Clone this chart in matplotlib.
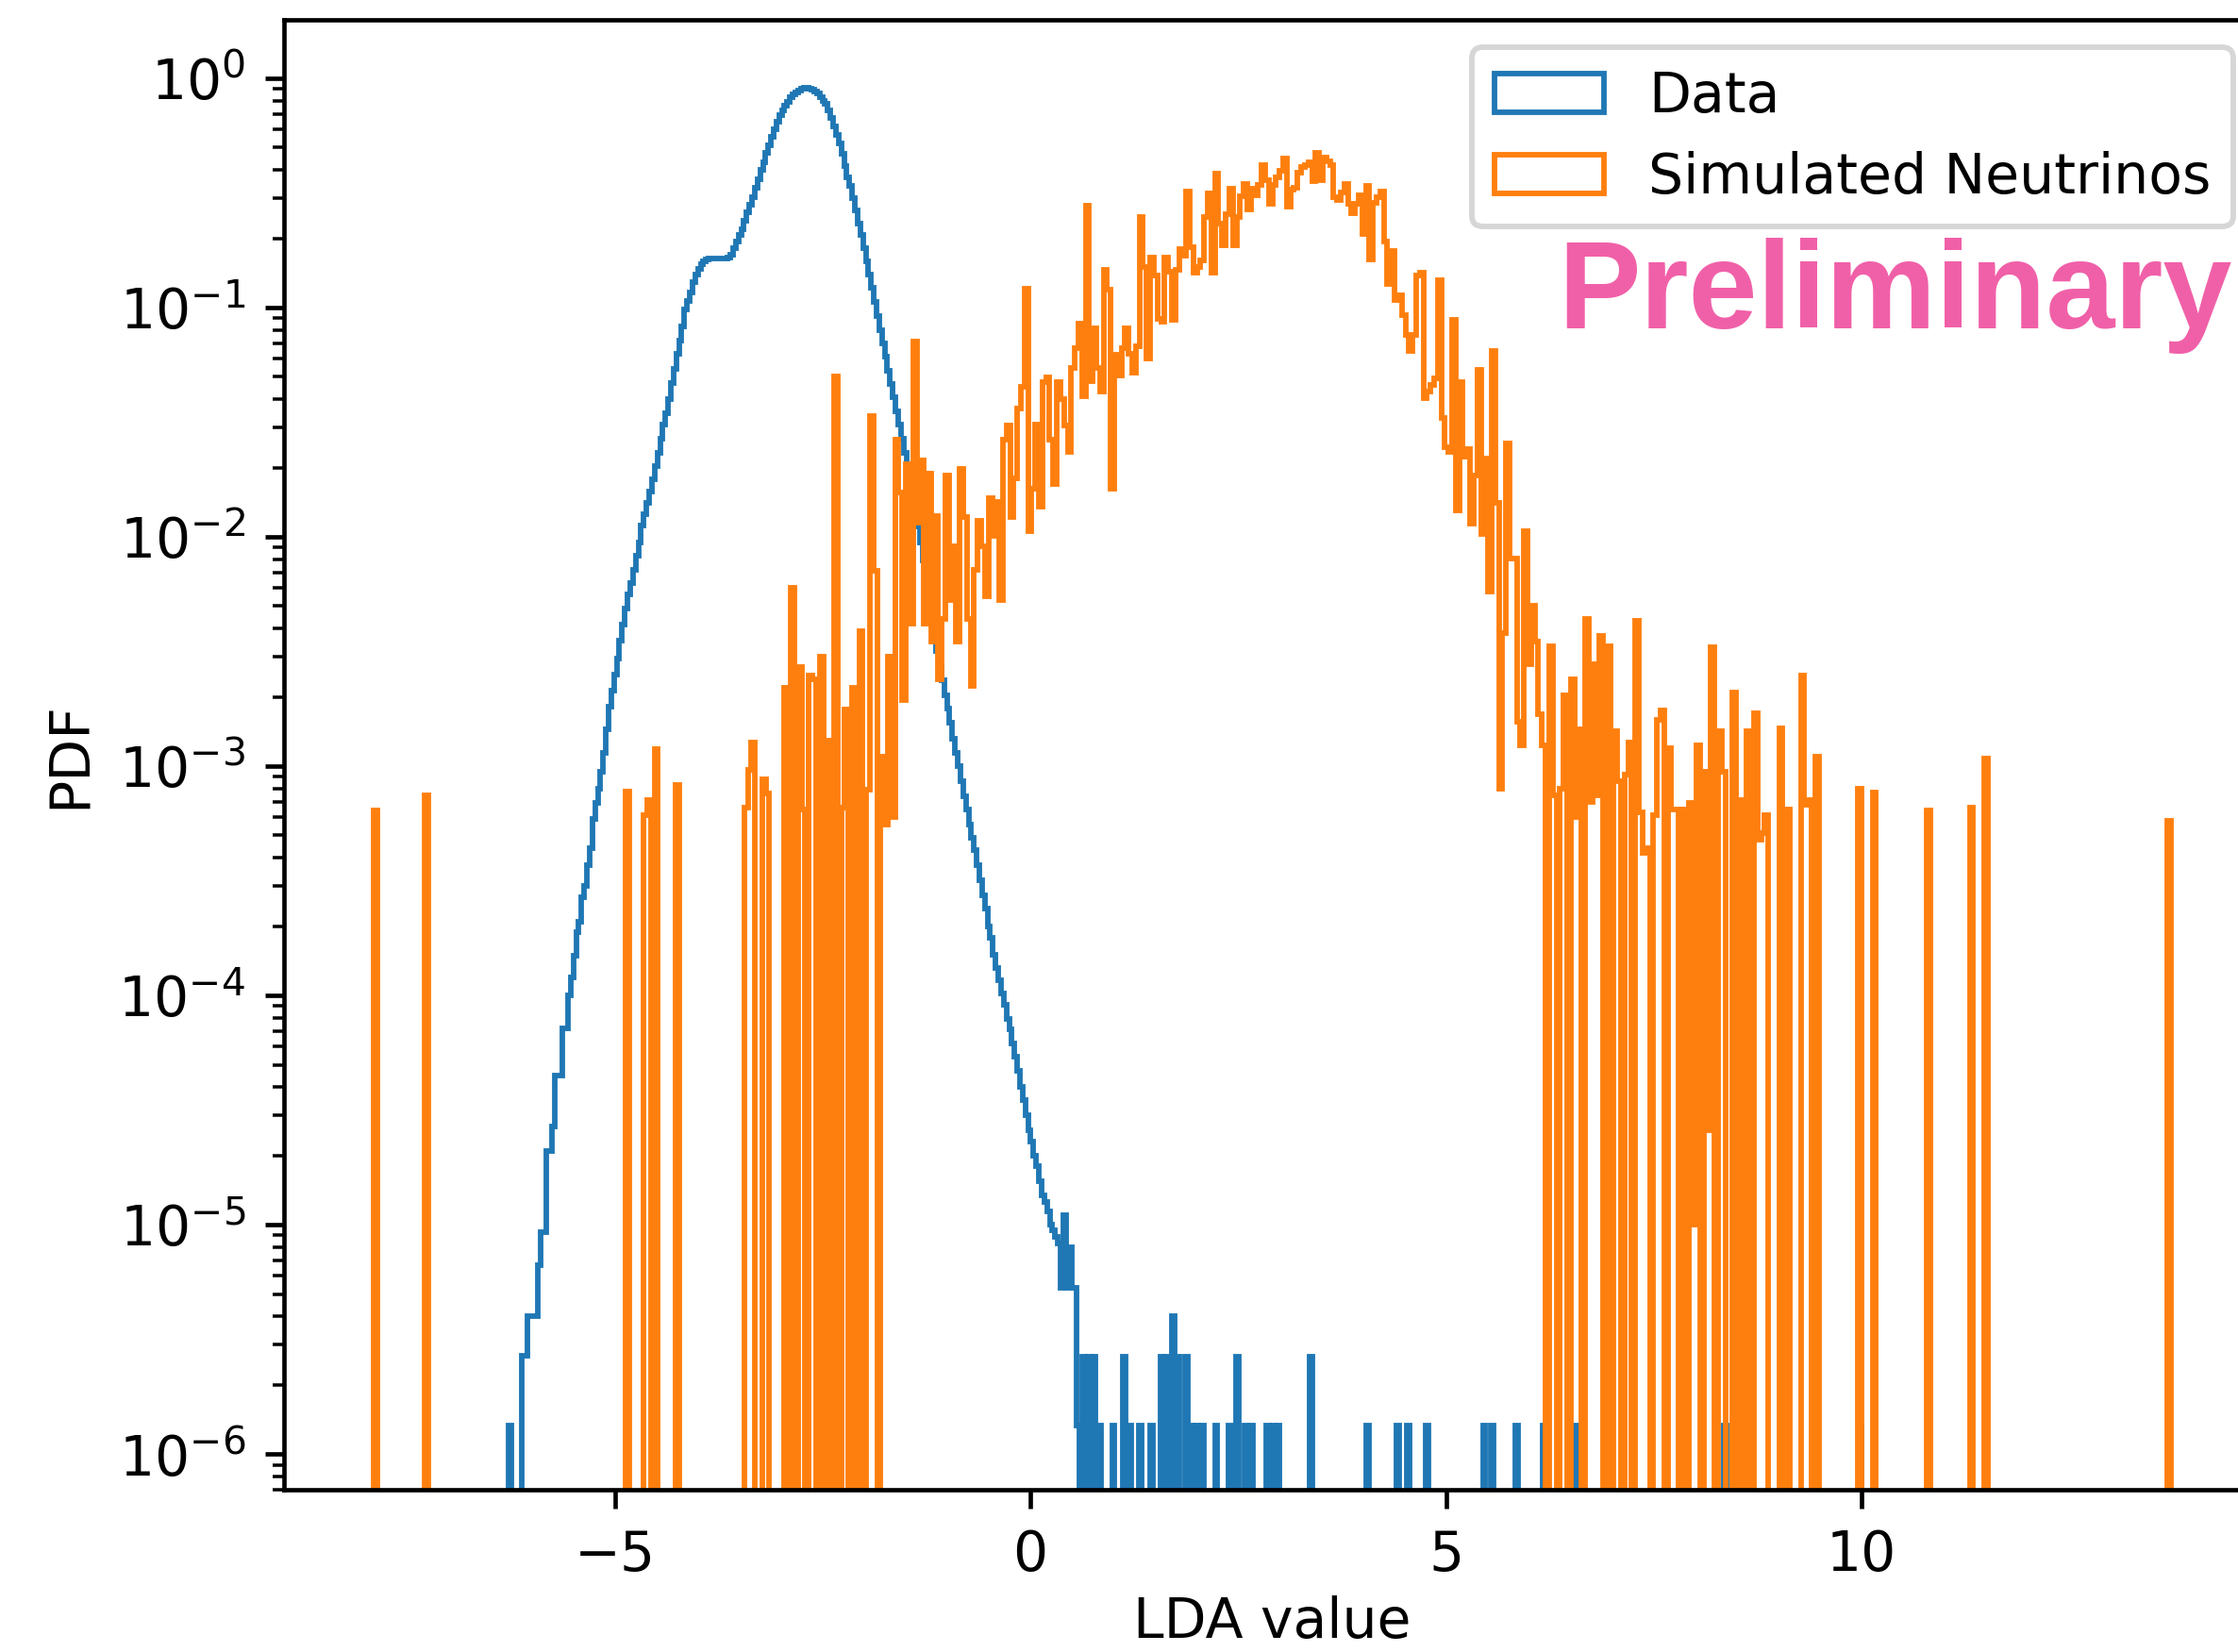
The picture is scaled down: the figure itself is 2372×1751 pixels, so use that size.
import numpy as np
import matplotlib
matplotlib.use("Agg")
import matplotlib.pyplot as plt

# ---- Data (PDF per bin) ----
# blue: 500 bins on [-6.28, 10.0]; body starts at the first bin
blue_range = (-6.28, 10.0)
blue_body = [
    1.33e-6, 0, 0, 0, 0, 2.7e-6, 2.7e-6, 4.0e-6, 4.0e-6, 4.0e-6,
    4.0e-6, 6.7e-6, 9.3e-6, 9.3e-6, 2.1e-5, 2.1e-5, 2.7e-5, 4.5e-5, 4.5e-5, 4.5e-5,
    7.2e-5, 7.2e-5, 1.0e-4, 1.2e-4, 1.5e-4, 1.9e-4, 2.1e-4, 2.7e-4, 3.0e-4, 3.7e-4,
    4.4e-4, 5.9e-4, 6.9e-4, 8.0e-4, 9.5e-4, 1.15e-3, 1.45e-3, 1.82e-3, 2.14e-3, 2.51e-3,
    2.95e-3, 3.55e-3, 4.17e-3, 4.9e-3, 5.6e-3, 6.3e-3, 7.2e-3, 8.3e-3, 9.5e-3, 0.0112,
    0.0126, 0.0141, 0.0158, 0.0178, 0.0204, 0.0234, 0.0269, 0.0309, 0.0347, 0.0398,
    0.0468, 0.054, 0.063, 0.072, 0.083, 0.098, 0.107, 0.117, 0.129, 0.140,
    0.148, 0.155, 0.160, 0.163, 0.164, 0.164, 0.164, 0.164, 0.164, 0.164,
    0.164, 0.165, 0.170, 0.182, 0.195, 0.207, 0.221, 0.240, 0.260, 0.282,
    0.305, 0.333, 0.363, 0.398, 0.432, 0.473, 0.513, 0.556, 0.603, 0.646,
    0.692, 0.724, 0.759, 0.794, 0.832, 0.855, 0.871, 0.887, 0.900, 0.908,
    0.910, 0.906, 0.895, 0.879, 0.859, 0.832, 0.800, 0.776, 0.724, 0.676,
    0.617, 0.569, 0.520, 0.468, 0.417, 0.372, 0.339, 0.302, 0.266, 0.234,
    0.207, 0.182, 0.160, 0.140, 0.122, 0.106, 0.092, 0.080, 0.070, 0.061,
    0.053, 0.0465, 0.0407, 0.0355, 0.0309, 0.0269, 0.0234, 0.0200, 0.0172, 0.0148,
    0.0129, 0.0111, 0.0095, 0.0079, 0.0066, 0.0056, 0.0047, 0.0039, 0.0032, 0.00275,
    0.00237, 0.00204, 0.00178, 0.00155, 0.00132, 0.00115, 0.00100, 8.6e-4, 7.4e-4, 6.5e-4,
    5.6e-4, 4.9e-4, 4.3e-4, 3.7e-4, 3.2e-4, 2.75e-4, 2.4e-4, 2.0e-4, 1.78e-4, 1.51e-4,
    1.32e-4, 1.17e-4, 1.02e-4, 9.1e-5, 7.9e-5, 7.1e-5, 6.2e-5, 5.4e-5, 4.7e-5, 4.0e-5,
    3.5e-5, 3.0e-5, 2.6e-5, 2.3e-5, 2.0e-5, 1.8e-5, 1.55e-5, 1.35e-5, 1.26e-5, 1.15e-5,
    1.0e-5, 9.5e-6, 8.9e-6, 8.3e-6, 5.3e-6, 1.1e-5, 5.3e-6, 8.0e-6, 5.3e-6, 5.3e-6,
]
blue_tail_x = [0.57, 0.64, 0.70, 0.77, 0.83, 1.00, 1.13, 1.20, 1.32, 1.45,
               1.58, 1.65, 1.71, 1.78, 1.875, 1.94, 2.01, 2.07, 2.22, 2.40,
               2.50, 2.59, 2.65, 2.85, 2.92, 2.98, 3.38, 4.06, 4.42, 4.55,
               4.76, 5.46, 5.57, 5.86, 6.19, 6.56, 8.35, 9.99]
blue_tail_pdf = [1.33e-6, 2.67e-6, 2.67e-6, 2.67e-6, 1.33e-6, 1.33e-6, 2.67e-6, 1.33e-6, 1.33e-6, 1.33e-6,
                 2.67e-6, 2.67e-6, 4.0e-6, 2.67e-6, 2.67e-6, 1.33e-6, 1.33e-6, 1.33e-6, 1.33e-6, 1.33e-6,
                 2.67e-6, 1.33e-6, 1.33e-6, 1.33e-6, 1.33e-6, 1.33e-6, 2.67e-6, 1.33e-6, 1.33e-6, 1.33e-6,
                 1.33e-6, 1.33e-6, 1.33e-6, 1.33e-6, 1.33e-6, 1.33e-6, 1.33e-6, 1.33e-6]

# orange: 500 bins on [-7.897, 13.72]; dense core starts at LDA = -3.42
orange_range = (-7.897, 13.72)
orange_core_from = -3.42
orange_core = [
    6.6e-4, 9.7e-4, 1.27e-3, 0, 0, 8.8e-4, 7.6e-4, 0, 0, 0,
    0, 2.2e-3, 0, 6.0e-3, 0, 2.7e-3, 6.5e-4, 0, 2.5e-3, 2.4e-3,
    0, 3.0e-3, 0, 1.3e-3, 0, 0.050, 0, 6.6e-4, 1.77e-3, 0,
    2.2e-3, 0, 3.9e-3, 0, 7.9e-4, 0.0338, 7.1e-3, 0, 1.1e-3, 5.6e-4,
    3.0e-3, 6.0e-4, 0.0267, 0.0156, 1.95e-3, 0.0208, 4.2e-3, 0.0713, 0.0116, 0.0215,
    4.2e-3, 0.0189, 3.5e-3, 0.0124, 2.4e-3, 4.4e-3, 0.0185, 5.3e-3, 9.1e-3, 3.5e-3,
    0.0198, 0.0122, 4.4e-3, 2.25e-3, 7.2e-3, 0.0118, 9.1e-3, 5.5e-3, 0.0148, 0.0101,
    0.0143, 5.3e-3, 0.0267, 0.0306, 0.0122, 0.018, 0.0363, 0.0451, 0.121, 0.0106,
    0.0163, 0.031, 0.0136, 0.0473, 0.0497, 0.0265, 0.0171, 0.0473, 0.0399, 0.0306,
    0.0235, 0.0547, 0.0664, 0.0857, 0.0413, 0.279, 0.0478, 0.0813, 0.0547, 0.043,
    0.146, 0.12, 0.0163, 0.0627, 0.0508, 0.0664, 0.0817, 0.0632, 0.0521, 0.068,
    0.249, 0.151, 0.0603, 0.166, 0.138, 0.0895, 0.0873, 0.166, 0.144, 0.0887,
    0.147, 0.181, 0.169, 0.322, 0.183, 0.142, 0.151, 0.161, 0.249, 0.315,
    0.142, 0.385, 0.233, 0.188, 0.257, 0.332, 0.188, 0.249, 0.307, 0.346,
    0.269, 0.331, 0.311, 0.343, 0.421, 0.36, 0.283, 0.343, 0.369, 0.397,
    0.446, 0.276, 0.327, 0.334, 0.387, 0.412, 0.421, 0.432, 0.356, 0.474,
    0.36, 0.454, 0.436, 0.421, 0.304, 0.294, 0.319, 0.346, 0.283, 0.259,
    0.283, 0.311, 0.209, 0.34, 0.162, 0.287, 0.304, 0.322, 0.194, 0.127,
    0.177, 0.108, 0.113, 0.093, 0.076, 0.0648, 0.076, 0.138, 0.142, 0.0405,
    0.043, 0.046, 0.0492, 0.132, 0.033, 0.0247, 0.0235, 0.0887, 0.0131, 0.0473,
    0.0224, 0.0241, 0.0114, 0.0185, 0.0534, 0.0103, 0.022, 5.8e-3, 0.0648, 0.0141,
    8.0e-4, 3.8e-3, 0.0255, 8.1e-3, 8.1e-3, 1.57e-3, 1.23e-3, 0.0106, 2.8e-3, 5.0e-3,
    3.5e-3, 1.69e-3, 1.23e-3, 0, 3.35e-3, 7.5e-4, 0, 8.0e-4, 2.05e-3, 0,
    2.4e-3, 6.0e-4, 1.45e-3,
]
orange_sparse_x = [-7.875, -7.270, -4.849, -4.633, -4.590, -4.503, -4.244,
                   6.693, 6.736, 6.780, 6.823, 6.866, 6.953, 7.039, 7.082, 7.169, 7.212,
                   7.298, 7.341, 7.385, 7.428, 7.514, 7.558, 7.601, 7.687, 7.731, 7.774,
                   7.860, 7.947, 7.990, 8.033, 8.120, 8.163, 8.206, 8.293, 8.336, 8.466,
                   8.552, 8.639, 8.725, 8.768, 8.812, 8.855, 9.028, 9.114, 9.287, 9.330,
                   9.374, 9.460, 9.979, 10.152, 10.800, 11.319, 11.492, 13.696]
orange_sparse_pdf = [6.4e-4, 7.5e-4, 7.8e-4, 6.1e-4, 7.1e-4, 1.19e-3, 8.3e-4,
                     4.4e-3, 7.0e-4, 2.8e-3, 7.5e-4, 3.7e-3, 3.35e-3, 1.43e-3, 8.6e-4, 9.2e-4, 1.27e-3,
                     4.3e-3, 6.3e-4, 4.2e-4, 4.4e-4, 6.15e-4, 1.6e-3, 1.75e-3, 1.2e-3, 6.5e-4, 6.5e-4,
                     6.5e-4, 6.9e-4, 1.0e-5, 1.23e-3, 9.5e-4, 2.6e-5, 3.3e-3, 1.42e-3, 9.5e-4, 2.1e-3,
                     7.1e-4, 1.43e-3, 1.71e-3, 4.8e-4, 5.1e-4, 6.15e-4, 1.46e-3, 6.5e-4, 2.5e-3, 6.8e-4,
                     7.1e-4, 1.1e-3, 8.0e-4, 7.7e-4, 6.4e-4, 6.6e-4, 1.08e-3, 5.8e-4]

# ---- bins ----
blue_edges = np.linspace(blue_range[0], blue_range[1], 501)
blue_centers = 0.5 * (blue_edges[:-1] + blue_edges[1:])
blue_x = np.concatenate([blue_centers[:len(blue_body)], blue_tail_x])
blue_w = np.concatenate([blue_body, blue_tail_pdf])

orange_edges = np.linspace(orange_range[0], orange_range[1], 501)
orange_centers = 0.5 * (orange_edges[:-1] + orange_edges[1:])
k0 = np.searchsorted(orange_edges, orange_core_from) - 1
orange_x = np.concatenate([orange_centers[k0:k0 + len(orange_core)], orange_sparse_x])
orange_w = np.concatenate([orange_core, orange_sparse_pdf])

# ---- plot ----
fig = plt.figure(figsize=(2372 / 420, 1751 / 420), dpi=420)
ax = fig.add_axes([0.1269, 0.0982, 0.8832, 0.8897])
ax.set_yscale("log")

ax.hist(blue_x, bins=blue_edges, weights=blue_w, histtype="step", label="Data")
ax.hist(orange_x, bins=orange_edges, weights=orange_w, histtype="step",
        label="Simulated Neutrinos")

ax.set_xlim(-8.98, 14.80)
ax.set_ylim(7.0e-7, 1.8)
ax.set_xticks([-5, 0, 5, 10])
ax.set_xlabel("LDA value", labelpad=2.5)
ax.set_ylabel("PDF")
ax.legend(loc="upper right")

ax.text(0.6445, 0.790, "Preliminary", transform=ax.transAxes,
        fontfamily="Liberation Sans", fontweight="bold", fontsize=22.5,
        color="#f060a8", va="baseline", ha="left")

fig.savefig("out.png", dpi=420)
